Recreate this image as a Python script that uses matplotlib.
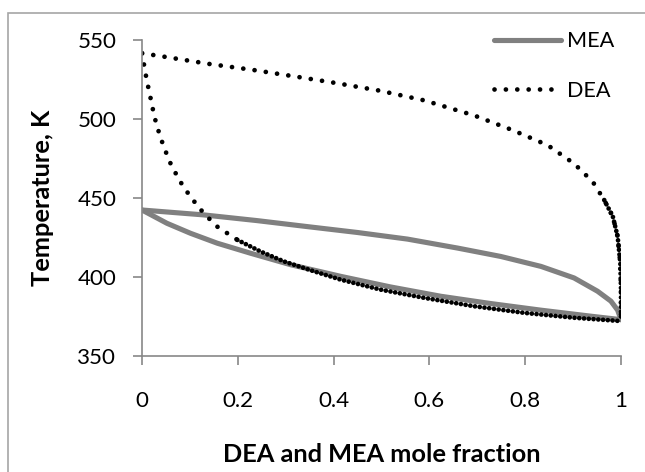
import matplotlib
matplotlib.use('Agg')
import matplotlib.pyplot as plt
from matplotlib.patches import Rectangle

plt.rcParams['font.family'] = ['Lato', 'DejaVu Sans']

# MEA - water T-x-y (gray solid)
mea_upper_x = [0, 0.129, 0.24, 0.345, 0.449, 0.554, 0.659, 0.749, 0.833, 0.902, 0.951, 0.979, 0.993, 1.0]
mea_upper_T = [442.4, 439.3, 435.7, 431.9, 428.2, 424.0, 418.3, 413.0, 406.7, 399.4, 391.0, 384.7, 379.0, 373.0]
mea_lower_x = [0, 0.052, 0.101, 0.157, 0.226, 0.31, 0.415, 0.519, 0.624, 0.728, 0.833, 0.937, 1.0]
mea_lower_T = [442.4, 434.0, 427.7, 421.4, 415.1, 407.8, 400.4, 393.7, 387.8, 383.2, 379.0, 375.2, 373.0]

# DEA - water T-x-y (black dotted)
dea_dew_x = [0, 0.045, 0.139, 0.233, 0.328, 0.40, 0.495, 0.589, 0.693, 0.774, 0.847,
             0.902, 0.941, 0.965, 0.983, 0.993, 0.9986, 1.0, 1.0]
dea_dew_T = [541.6, 539.5, 534.9, 531.0, 526.5, 523.0, 518.0, 511.8, 502.3, 492.9, 483.4,
             471.8, 460.3, 448.7, 438.2, 425.6, 408.8, 392.0, 373.1]
dea_bub_x = [0, 0.010, 0.016, 0.026, 0.038, 0.051, 0.061, 0.08, 0.101, 0.129, 0.157, 0.199,
             0.247, 0.296, 0.359, 0.415, 0.498, 0.589, 0.693, 0.798, 0.902, 1.0]
dea_bub_T = [541.6, 524.4, 516.0, 501.3, 488.7, 478.2, 470.8, 460.3, 450.8, 440.3, 431.9, 423.5,
             416.2, 409.9, 403.6, 398.3, 392.0, 386.8, 381.5, 377.3, 374.2, 372.1]
# where the Excel dots bunch up into an almost solid line
dew_dense_from = 13
bub_dense_from = 11

xticks = [0, 0.2, 0.4, 0.6, 0.8, 1]
xtick_labels = ['0', '0.2', '0.4', '0.6', '0.8', '1']
yticks = [350, 400, 450, 500, 550]

GRAY = '#808080'
AXIS_GRAY = '#878787'

fig = plt.figure(figsize=(6.45, 4.72), dpi=100)
renderer = fig.canvas.get_renderer()


def fit_size(text, target_px, weight='normal'):
    # font size that makes `text` about target_px wide (the source used Calibri)
    t = fig.text(0, 0, text, fontsize=10, fontweight=weight)
    w = t.get_window_extent(renderer=renderer).width
    t.remove()
    return 10 * target_px / w


tick_fs = fit_size('550', 39)
label_fs = fit_size('Temperature, K', 177, 'bold')
legend_fs = fit_size('MEA', 47)

ax = fig.add_axes([142 / 645, 1 - 356 / 472, 479 / 645, 316 / 472])

ax.plot(mea_upper_x, mea_upper_T, color=GRAY, lw=3.7, solid_capstyle='round', label='MEA')
ax.plot(mea_lower_x, mea_lower_T, color=GRAY, lw=3.7, solid_capstyle='round')

lw_dot = 3.4
sparse = (0, (0.01, 2.4))
dense = (0, (0.01, 1.0))
ax.plot(dea_dew_x, dea_dew_T, color='black', lw=lw_dot, ls=sparse, dash_capstyle='round', label='DEA')
ax.plot(dea_dew_x[dew_dense_from:], dea_dew_T[dew_dense_from:], color='black', lw=lw_dot, ls=dense,
        dash_capstyle='round')
ax.plot(dea_bub_x[:bub_dense_from + 1], dea_bub_T[:bub_dense_from + 1], color='black', lw=lw_dot,
        ls=sparse, dash_capstyle='round')
ax.plot(dea_bub_x[bub_dense_from:], dea_bub_T[bub_dense_from:], color='black', lw=lw_dot, ls=dense,
        dash_capstyle='round')

ax.set_xlim(0, 1)
ax.set_ylim(350, 550)
ax.set_xticks(xticks)
ax.set_xticklabels(xtick_labels)
ax.set_yticks(yticks)

for s in ['top', 'right']:
    ax.spines[s].set_visible(False)
for s in ['left', 'bottom']:
    ax.spines[s].set_color(AXIS_GRAY)
    ax.spines[s].set_linewidth(1.2)
    ax.spines[s].set_capstyle('projecting')

ax.tick_params(direction='out', length=6.5, width=1.2, color=AXIS_GRAY, labelsize=tick_fs)
ax.tick_params(axis='y', pad=12)
ax.tick_params(axis='x', pad=19)

ax.set_xlabel('DEA and MEA mole fraction', fontsize=label_fs, fontweight='bold')
ax.set_ylabel('Temperature, K', fontsize=label_fs, fontweight='bold')
ax.xaxis.label.set_va('center')
ax.yaxis.label.set_va('center')
ax.xaxis.set_label_coords(0.5, (356 - 454) / 316)
ax.yaxis.set_label_coords((43 - 142) / 479, 0.5)

ax.legend(loc='upper right', bbox_to_anchor=(1.005, 1.055), frameon=False, fontsize=legend_fs,
          handlelength=3.1, handletextpad=0.3, labelspacing=1.35, borderaxespad=0)

# outer chart frame (cut off at right and bottom like the source)
fig.patches.append(Rectangle((8 / 645, -0.1), 1.2, 1.1 - 13 / 472, transform=fig.transFigure,
                             fill=False, edgecolor='#a6a6a6', lw=1.2))

fig.savefig('out.png', dpi=100)
